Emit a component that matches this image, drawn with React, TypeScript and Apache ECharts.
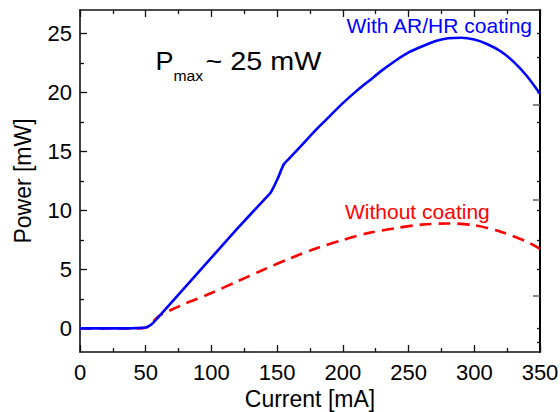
import React, { useEffect, useRef } from "react";
import * as echarts from "echarts";

// With AR/HR coating (solid blue)
const coatedCurrent = [0, 10, 20, 30, 40, 50, 55, 60, 80, 100, 120, 140, 145, 150, 155, 160, 170, 180, 190, 200, 210, 220, 230, 240, 250, 260, 270, 280, 290, 300, 310, 320, 330, 340, 350];
const coatedPower = [0, 0, 0, 0, 0.02, 0.08, 0.4, 1.0, 3.5, 6.0, 8.5, 10.9, 11.5, 12.6, 13.9, 14.5, 15.7, 16.9, 18.0, 19.1, 20.1, 21.0, 21.9, 22.7, 23.4, 23.9, 24.35, 24.6, 24.65, 24.5, 24.1, 23.5, 22.6, 21.4, 19.9];

// Without coating (dashed red)
const uncoatedCurrent = [0, 20, 40, 50, 55, 60, 70, 80, 100, 120, 140, 160, 180, 200, 220, 240, 260, 280, 300, 320, 340, 350];
const uncoatedPower = [0, 0, 0, 0.05, 0.5, 1.05, 1.6, 2.1, 3.0, 4.0, 5.0, 5.95, 6.8, 7.5, 8.1, 8.5, 8.8, 8.9, 8.75, 8.2, 7.35, 6.75];

// Axis ticks
const yMajorTicks = [0, 5, 10, 15, 20, 25];
const yMinorTicks = [2.5, 7.5, 12.5, 17.5, 22.5];
const rightShortTicks = [-1.2, 0, 5, 7.5, 10, 12.5, 15, 17.5, 20, 23, 25];
const rightLongTicks = [2.8, 10.9, 19.0];

const FONT = "'Liberation Sans', Arial, Helvetica, sans-serif";

export default function App() {
  const ref = useRef<HTMLDivElement>(null);

  useEffect(() => {
    const chart = echarts.init(ref.current!, null, { renderer: "svg" });
    const lineCol = "#111";

    const yBase = {
      type: "value",
      min: -2,
      max: 27,
      splitLine: { show: false },
      axisLine: { show: false, onZero: false },
      axisLabel: { show: false },
    };
    const xBase = {
      type: "value",
      min: 0,
      max: 350,
      interval: 50,
      splitLine: { show: false },
      axisLine: { show: true, onZero: false, lineStyle: { color: lineCol, width: 1.6 } },
      axisTick: { show: true, inside: true, length: 7, lineStyle: { color: lineCol, width: 1.3 } },
      minorTick: { show: true, splitNumber: 2, length: 4, lineStyle: { color: lineCol, width: 1.3 } },
    };

    const option = {
      animation: false,
      backgroundColor: "#fff",
      grid: { left: 80, right: 20, top: 10, bottom: 60, containLabel: false, outerBoundsMode: "none" },
      xAxis: [
        {
          ...xBase,
          position: "bottom",
          name: "Current [mA]",
          nameLocation: "middle",
          nameGap: 34,
          nameTextStyle: { fontSize: 23, color: "#000", fontFamily: FONT },
          axisLabel: { show: true, fontSize: 22, color: "#000", fontFamily: FONT, margin: 9 },
        },
        {
          ...xBase,
          position: "top",
          axisLabel: { show: false },
        },
      ],
      yAxis: [
        {
          ...yBase,
          position: "left",
          axisLine: { show: true, onZero: false, lineStyle: { color: lineCol, width: 1.6 } },
          axisTick: { show: true, inside: true, length: 7, customValues: yMajorTicks, lineStyle: { color: lineCol, width: 1.3 } },
          axisLabel: { show: true, customValues: yMajorTicks, fontSize: 22, color: "#000", fontFamily: FONT, margin: 8 },
          name: "Power [mW]",
          nameLocation: "middle",
          nameGap: 46,
          nameTextStyle: { fontSize: 23, color: "#000", fontFamily: FONT },
        },
        {
          ...yBase,
          position: "left",
          axisTick: { show: true, inside: true, length: 4, customValues: yMinorTicks, lineStyle: { color: lineCol, width: 1.3 } },
        },
        {
          ...yBase,
          position: "right",
          axisLine: { show: true, onZero: false, lineStyle: { color: "#000", width: 2 } },
          axisTick: { show: true, inside: true, length: 3, customValues: rightShortTicks, lineStyle: { color: lineCol, width: 1.3 } },
        },
        {
          ...yBase,
          position: "right",
          axisTick: { show: true, inside: true, length: 7, customValues: rightLongTicks, lineStyle: { color: "#666", width: 1.6 } },
        },
      ],
      series: [
        {
          name: "Without coating",
          type: "line",
          xAxisIndex: 0,
          yAxisIndex: 0,
          data: uncoatedCurrent.map((c, i) => [c, uncoatedPower[i]]),
          showSymbol: false,
          smooth: 0.3,
          lineStyle: { color: "#ff0000", width: 2.6, type: [12, 7] },
          z: 2,
        },
        {
          name: "With AR/HR coating",
          type: "line",
          xAxisIndex: 0,
          yAxisIndex: 0,
          data: coatedCurrent.map((c, i) => [c, coatedPower[i]]),
          showSymbol: false,
          smooth: 0.2,
          lineStyle: { color: "#0000ff", width: 2.6 },
          z: 3,
        },
      ],
      graphic: [
        { type: "text", x: 155.5, y: 61.3, scaleX: 1.08, style: { text: "P", fontSize: 25, fontFamily: FONT, fill: "#000", verticalAlign: "middle" } },
        { type: "text", x: 173.5, y: 75.4, scaleX: 1.05, style: { text: "max", fontSize: 15, fontFamily: FONT, fill: "#000", verticalAlign: "middle" } },
        { type: "text", x: 205.5, y: 61.3, scaleX: 1.15, style: { text: "~ 25 mW", fontSize: 25, fontFamily: FONT, fill: "#000", verticalAlign: "middle" } },
        { type: "text", x: 532, y: 25, style: { text: "With AR/HR coating", fontSize: 21, fontFamily: FONT, fill: "#0000ff", align: "right", verticalAlign: "middle" } },
        { type: "text", x: 345, y: 211, style: { text: "Without coating", fontSize: 21, fontFamily: FONT, fill: "#ff0000", verticalAlign: "middle" } },
      ],
    };

    chart.setOption(option as any);
    return () => chart.dispose();
  }, []);

  return <div ref={ref} style={{ position: "fixed", left: 0, top: 0, width: 560, height: 412 }} />;
}
